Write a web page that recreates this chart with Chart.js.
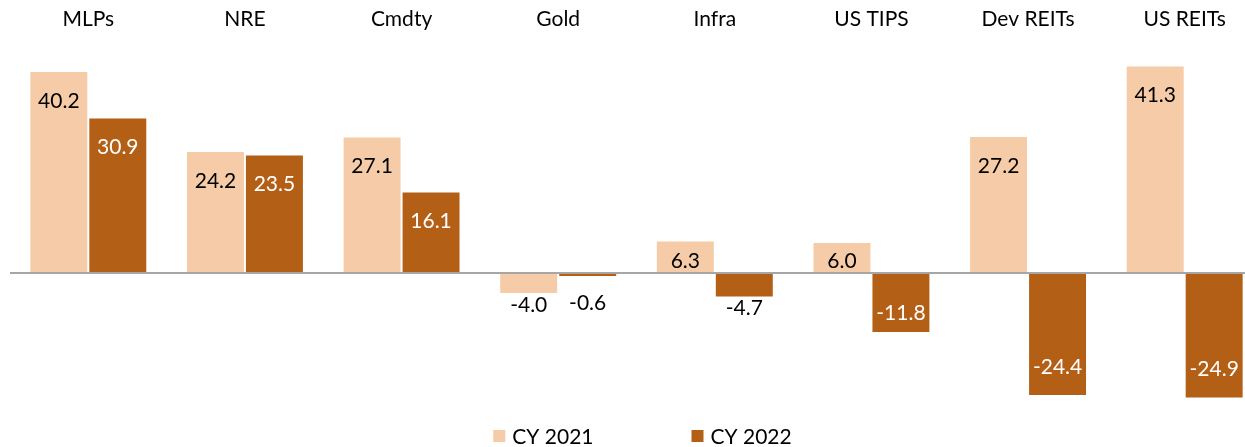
<!DOCTYPE html>
<html lang="en">
<head>
  <meta charset="UTF-8">
  <title>Real asset returns, CY 2021 vs CY 2022</title>
  <script src="https://cdn.jsdelivr.net/npm/chart.js"></script>
  <style>
    html, body {
      margin: 0;
      padding: 0;
      background: #fff;
      overflow: hidden;
    }

    #chart-wrap {
      width: 1264px;
      height: 447px;
      position: relative;
    }
  </style>
</head>
<body>

  <div id="chart-wrap">
    <canvas id="returnsChart"></canvas>
  </div>

  <script>
    // calendar-year total returns (%)
    const categories = ['MLPs', 'NRE', 'Cmdty', 'Gold', 'Infra', 'US TIPS', 'Dev REITs', 'US REITs'];
    const cy2021 = [40.2, 24.2, 27.1, -4.0, 6.3, 6.0, 27.2, 41.3];
    const cy2022 = [30.9, 23.5, 16.1, -0.6, -4.7, -11.8, -24.4, -24.9];
    const seriesNames = ['CY 2021', 'CY 2022'];

    const FONT = 'Lato, "Open Sans", sans-serif';

    // value labels: inside the bar end, pushed outside when the bar is too short
    const valueLabels = {
      id: 'valueLabels',
      afterDatasetsDraw(chart) {
        const ctx = chart.ctx;
        ctx.save();
        ctx.font = '21px ' + FONT;
        ctx.textAlign = 'center';
        ctx.textBaseline = 'middle';
        chart.data.datasets.forEach((ds, i) => {
          chart.getDatasetMeta(i).data.forEach((bar, j) => {
            const v = ds.data[j];
            const h = Math.abs(bar.base - bar.y);
            let y;
            let inside = true;
            if (v >= 0) {
              y = Math.min(bar.y + 29, bar.base - 11);
            } else if (h > 40) {
              y = Math.max(bar.y - 28, bar.base + 39);
            } else {
              y = Math.max(bar.y + 12, bar.base + 29);
              inside = false;
            }
            ctx.fillStyle = inside ? ds.labelColor : '#000';
            ctx.fillText(v.toFixed(1), bar.x, y);
          });
        });
        ctx.restore();
      }
    };

    // legend row under the plot, squares with wide spacing
    const bottomLegend = {
      id: 'bottomLegend',
      afterDraw(chart) {
        const ctx = chart.ctx;
        const box = 12, gap = 7, spacing = 98;
        ctx.save();
        ctx.font = '21px ' + FONT;
        ctx.textBaseline = 'middle';
        const items = chart.data.datasets.map(ds => ({
          text: ds.label,
          color: ds.backgroundColor,
          w: box + gap + ctx.measureText(ds.label).width
        }));
        const total = items.reduce((s, it) => s + it.w, 0) + spacing * (items.length - 1);
        const area = chart.chartArea;
        let x = (area.left + area.right) / 2 + 6 - total / 2;
        const y = 436;
        items.forEach(it => {
          ctx.fillStyle = it.color;
          ctx.fillRect(x, y - box / 2, box, box);
          ctx.fillStyle = '#000';
          ctx.fillText(it.text, x + box + gap, y + 1);
          x += it.w + spacing;
        });
        ctx.restore();
      }
    };

    const ctx = document.getElementById('returnsChart').getContext('2d');

    new Chart(ctx, {
      type: 'bar',
      data: {
        labels: categories,
        datasets: [
          {
            label: seriesNames[0],
            data: cy2021,
            backgroundColor: '#F6CBA7',
            labelColor: '#000'
          },
          {
            label: seriesNames[1],
            data: cy2022,
            backgroundColor: '#B45F16',
            labelColor: '#fff'
          }
        ]
      },
      options: {
        responsive: true,
        maintainAspectRatio: false,
        animation: false,
        categoryPercentage: 0.753,
        barPercentage: 0.966,
        layout: {
          padding: { left: 10, right: 1, top: 0, bottom: 44 }
        },
        plugins: {
          legend: { display: false },
          tooltip: { enabled: false }
        },
        scales: {
          x: {
            position: 'top',
            grid: { display: false, drawTicks: false },
            border: { display: false },
            ticks: {
              color: '#000',
              padding: 31,
              font: { family: FONT, size: 21 }
            },
            // category names sit well above the plot; fix the band height
            afterFit(scale) {
              scale.height = 63;
            }
          },
          y: {
            display: true,
            min: -26,
            max: 42,
            border: { display: false },
            grid: {
              drawTicks: false,
              lineWidth: 2,
              color: c => c.tick && c.tick.value === 0 ? '#A6A6A6' : 'transparent'
            },
            ticks: { display: false, stepSize: 2 }
          }
        }
      },
      plugins: [valueLabels, bottomLegend]
    });
  </script>

</body>
</html>
